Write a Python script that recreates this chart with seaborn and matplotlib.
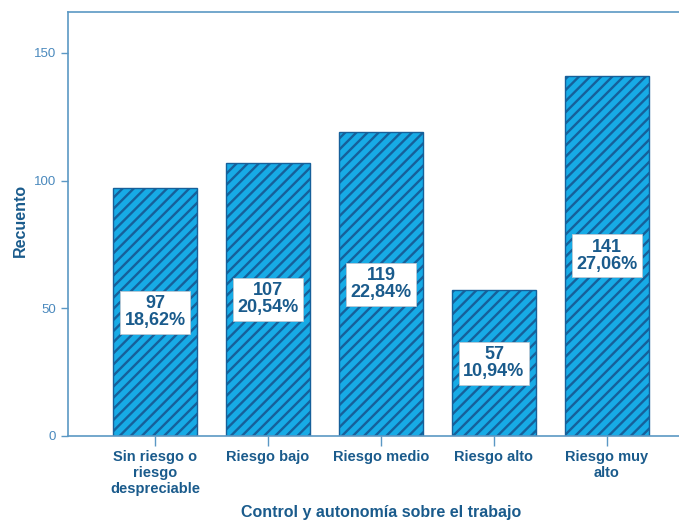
import matplotlib
matplotlib.use("Agg")
import matplotlib.pyplot as plt
import seaborn as sns
import pandas as pd

categorias = ["Sin riesgo o\nriesgo\ndespreciable", "Riesgo bajo", "Riesgo medio",
              "Riesgo alto", "Riesgo muy\nalto"]
recuentos = [97, 107, 119, 57, 141]

sns.set_theme(style="white")
plt.rcParams["font.family"] = ["Liberation Sans", "DejaVu Sans"]
plt.rcParams["hatch.linewidth"] = 1.7
plt.rcParams["hatch.color"] = "#1a6fab"

FILL = "#17abe6"
EDGE = "#16609a"
TEXT = "#1a5b8c"
AXIS = "#5b98c4"
TICK = "#4a89bd"

df = pd.DataFrame({"categoria": categorias, "recuento": recuentos})
total = sum(recuentos)

fig = plt.figure(figsize=(6.79, 5.22), dpi=100)
ax = fig.add_axes([68 / 679, 1 - 436 / 522, (694 - 68) / 679, (436 - 12) / 522])

sns.barplot(data=df, x="categoria", y="recuento", ax=ax, color=FILL,
            width=0.75, saturation=1, edgecolor=EDGE, linewidth=1.0)
for p in ax.patches:
    p.set_hatch("///")
    p.set_edgecolor(EDGE)

for i, v in enumerate(recuentos):
    pct = f"{100 * v / total:.2f}".replace(".", ",")
    ax.text(i, v / 2, f"{v}\n{pct}%", ha="center", va="center",
            fontsize=13, fontweight="bold", color=TEXT, linespacing=1.0,
            bbox=dict(boxstyle="square,pad=0.25", fc="white", ec="#b9c7d3", lw=0.6))

ax.set_xlim(-0.77, 4.77)
ax.set_ylim(0, 166)
ax.set_yticks([0, 50, 100, 150])
ax.set_xlabel("Control y autonomía sobre el trabajo", fontsize=11.5, fontweight="bold",
              color=TEXT, va="center")
ax.set_ylabel("Recuento", fontsize=11.5, fontweight="bold", color=TEXT, va="center")
ax.xaxis.set_label_coords((381 - 68) / 626, -(513 - 436) / 424)
ax.yaxis.set_label_coords(-(68 - 20) / 626, (436 - 220) / 424)

ax.tick_params(axis="y", colors=AXIS, labelsize=9.5, labelcolor=TICK, length=5, width=1,
               direction="out", left=True)
ax.tick_params(axis="x", colors=AXIS, length=7, width=1, direction="out", bottom=True,
               pad=3)
for lab in ax.get_xticklabels():
    lab.set_color(TEXT)
    lab.set_fontweight("bold")
    lab.set_fontsize(10.5)
for s in ax.spines.values():
    s.set_color(AXIS)
    s.set_linewidth(1.2)

fig.savefig("out.png", dpi=100)
